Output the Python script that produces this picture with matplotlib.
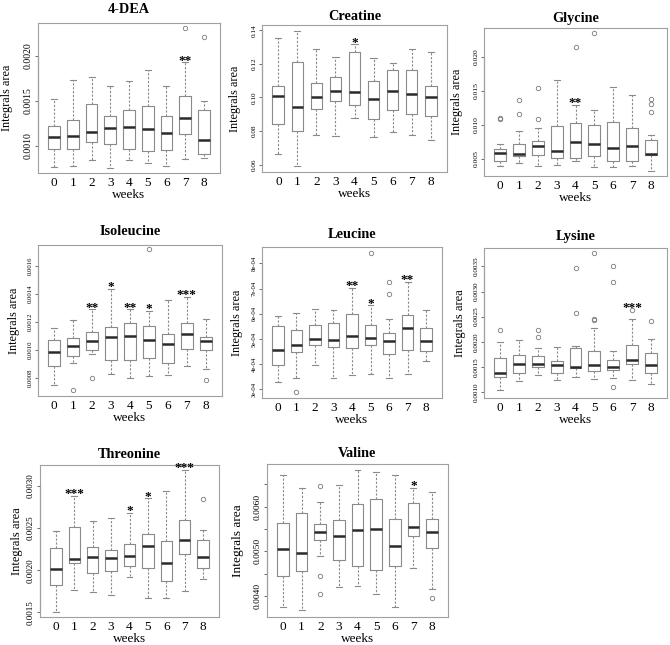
import matplotlib
matplotlib.use("Agg")
import matplotlib.pyplot as plt
import matplotlib.transforms as mtransforms

plt.rcParams['font.family'] = ['Liberation Serif', 'DejaVu Serif']

weeks = list(range(9))

# 4-DEA
dea_lo = [0.000764, 0.000782, 0.000841, 0.000760, 0.000849, 0.000812, 0.000775, 0.000852, 0.000863]
dea_q1 = [0.000967, 0.000967, 0.001048, 0.001026, 0.000970, 0.000948, 0.000956, 0.001129, 0.000915]
dea_med = [0.001100, 0.001114, 0.001159, 0.001200, 0.001214, 0.001188, 0.001144, 0.001314, 0.001063]
dea_q3 = [0.001220, 0.001284, 0.001465, 0.001336, 0.001402, 0.001443, 0.001336, 0.001557, 0.001402]
dea_hi = [0.001520, 0.001727, 0.001760, 0.001660, 0.001716, 0.001838, 0.001668, 0.001926, 0.001500]
dea_out = [[], [], [], [], [], [], [], [0.00231], [0.00220]]
dea_sig = {7: '**'}

# Creatine
cre_lo = [0.0661, 0.0592, 0.0774, 0.0770, 0.0879, 0.0766, 0.0792, 0.0776, 0.0745]
cre_q1 = [0.0842, 0.0798, 0.0931, 0.0980, 0.0956, 0.0871, 0.0925, 0.0901, 0.0891]
cre_med = [0.1006, 0.0945, 0.1002, 0.1040, 0.1032, 0.0992, 0.1040, 0.1020, 0.1002]
cre_q3 = [0.1071, 0.1210, 0.1089, 0.1121, 0.1269, 0.1099, 0.1162, 0.1164, 0.1071]
cre_hi = [0.1356, 0.1396, 0.1289, 0.1244, 0.1317, 0.1234, 0.1204, 0.1289, 0.1269]
cre_out = [[], [], [], [], [], [], [], [], []]
cre_sig = {4: '*'}

# Glycine
gly_lo = [0.00397, 0.00441, 0.00402, 0.00417, 0.00466, 0.00382, 0.00387, 0.00402, 0.00324]
gly_q1 = [0.00475, 0.00539, 0.00564, 0.00515, 0.00520, 0.00539, 0.00470, 0.00470, 0.00564]
gly_med = [0.00593, 0.00578, 0.00696, 0.00618, 0.00745, 0.00716, 0.00662, 0.00691, 0.00578]
gly_q3 = [0.00652, 0.00725, 0.00770, 0.00990, 0.01025, 0.00995, 0.01044, 0.00956, 0.00775]
gly_hi = [0.00725, 0.00917, 0.00951, 0.01657, 0.01294, 0.01225, 0.01554, 0.01446, 0.00848]
gly_out = [[0.01108, 0.01090], [0.01368, 0.01162], [0.01544, 0.01093], [], [0.02142],
           [0.02348], [], [], [0.01382, 0.01309, 0.01191]]
gly_sig = {4: '**'}

# Isoleucine
ile_lo = [0.000744, 0.000902, 0.000971, 0.000826, 0.000799, 0.000811, 0.000821, 0.000885, 0.000861]
ile_q1 = [0.000881, 0.000955, 0.000998, 0.000926, 0.000926, 0.000936, 0.000904, 0.001002, 0.000998]
ile_med = [0.000983, 0.001024, 0.001064, 0.001091, 0.001098, 0.001067, 0.001038, 0.001110, 0.001062]
ile_q3 = [0.001069, 0.001086, 0.001124, 0.001158, 0.001191, 0.001167, 0.001112, 0.001189, 0.001091]
ile_hi = [0.001155, 0.001208, 0.001287, 0.001435, 0.001287, 0.001275, 0.001351, 0.001375, 0.001217]
ile_out = [[], [0.000713], [0.000799], [], [], [0.001716], [], [], [0.000785]]
ile_sig = {2: '**', 3: '*', 4: '**', 5: '*', 7: '***'}

# Leucine
leu_lo = [3.29e-4, 3.47e-4, 3.96e-4, 3.47e-4, 3.58e-4, 3.62e-4, 3.47e-4, 3.61e-4, 4.13e-4]
leu_q1 = [3.97e-4, 4.47e-4, 4.78e-4, 4.68e-4, 4.63e-4, 4.76e-4, 4.42e-4, 4.56e-4, 4.54e-4]
leu_med = [4.58e-4, 4.78e-4, 5.01e-4, 4.97e-4, 5.12e-4, 5.03e-4, 4.92e-4, 5.45e-4, 4.91e-4]
leu_q3 = [5.50e-4, 5.37e-4, 5.54e-4, 5.65e-4, 5.99e-4, 5.57e-4, 5.22e-4, 5.97e-4, 5.44e-4]
leu_hi = [5.90e-4, 6.04e-4, 6.19e-4, 6.14e-4, 7.04e-4, 6.34e-4, 5.81e-4, 7.28e-4, 6.14e-4]
leu_out = [[], [2.88e-4], [], [], [], [8.43e-4], [7.26e-4, 6.77e-4], [], []]
leu_sig = {4: '**', 5: '*', 7: '**'}

# Lysine
lys_lo = [0.001033, 0.001220, 0.001347, 0.001233, 0.001300, 0.001260, 0.001280, 0.001247, 0.001153]
lys_q1 = [0.001300, 0.001387, 0.001507, 0.001380, 0.001473, 0.001413, 0.001433, 0.001553, 0.001373]
lys_med = [0.001387, 0.001560, 0.001560, 0.001540, 0.001507, 0.001547, 0.001507, 0.001627, 0.001547]
lys_q3 = [0.001667, 0.001727, 0.001707, 0.001620, 0.001873, 0.001813, 0.001640, 0.001933, 0.001780]
lys_hi = [0.002000, 0.002033, 0.001867, 0.001887, 0.001920, 0.002267, 0.001813, 0.002447, 0.002053]
lys_out = [[0.002233], [], [0.00224, 0.00210], [], [0.003467, 0.002573],
           [0.003767, 0.002447, 0.002433], [0.003513, 0.003187, 0.001107], [0.002633], [0.002413]]
lys_sig = {7: '***'}

# Threonine
thr_lo = [0.001504, 0.001770, 0.001742, 0.001710, 0.001921, 0.001675, 0.001671, 0.001758, 0.001901]
thr_q1 = [0.001825, 0.002083, 0.001972, 0.001996, 0.002048, 0.002032, 0.001869, 0.002198, 0.002032]
thr_med = [0.002016, 0.002139, 0.002159, 0.002143, 0.002163, 0.002286, 0.002087, 0.002357, 0.002155]
thr_q3 = [0.002262, 0.002512, 0.002270, 0.002246, 0.002317, 0.002433, 0.002349, 0.002591, 0.002353]
thr_hi = [0.002468, 0.002881, 0.002587, 0.002615, 0.002683, 0.002853, 0.002944, 0.003190, 0.002476]
thr_out = [[], [], [], [], [], [], [], [], [0.002841]]
thr_sig = {1: '***', 4: '*', 5: '*', 7: '***'}

# Valine
val_lo = [0.003742, 0.003674, 0.004888, 0.004199, 0.004221, 0.004034, 0.003742, 0.004618, 0.004154]
val_q1 = [0.004453, 0.004551, 0.005262, 0.004798, 0.004678, 0.004588, 0.004663, 0.005352, 0.005075]
val_med = [0.005060, 0.004970, 0.005434, 0.005337, 0.005472, 0.005509, 0.005127, 0.005547, 0.005434]
val_q3 = [0.005637, 0.005861, 0.005614, 0.005704, 0.006071, 0.006184, 0.005719, 0.006086, 0.005727]
val_hi = [0.006708, 0.006423, 0.006109, 0.006498, 0.006835, 0.006783, 0.006723, 0.006423, 0.006333]
val_out = [[], [], [0.006476, 0.004453, 0.004049], [], [], [], [], [], [0.003951]]
val_sig = {7: '*'}

panels = [
    # title, stats, yticks, ytick labels, ylim, box px (l, r, t, b), ytick size, ylabel offset, title gap, ylabel size
    ('4-DEA', (dea_lo, dea_q1, dea_med, dea_q3, dea_hi, dea_out, dea_sig),
     [0.0010, 0.0015, 0.0020], ['0.0010', '0.0015', '0.0020'], (0.00070, 0.00236),
     (38, 220, 23, 173), 7.0, 31, 15, 8.8),
    ('Creatine', (cre_lo, cre_q1, cre_med, cre_q3, cre_hi, cre_out, cre_sig),
     [0.06, 0.08, 0.10, 0.12, 0.14], ['0.06', '0.08', '0.10', '0.12', '0.14'], (0.0556, 0.1432),
     (262, 447, 25, 172), 5.2, 27, 10, 8.8),
    ('Glycine', (gly_lo, gly_q1, gly_med, gly_q3, gly_hi, gly_out, gly_sig),
     [0.005, 0.010, 0.015, 0.020], ['0.005', '0.010', '0.015', '0.020'], (0.0025, 0.02426),
     (484, 667, 28, 176), 5.4, 27, 11, 8.8),
    ('Isoleucine', (ile_lo, ile_q1, ile_med, ile_q3, ile_hi, ile_out, ile_sig),
     [0.0008, 0.0010, 0.0012, 0.0014, 0.0016], ['0.0008', '0.0010', '0.0012', '0.0014', '0.0016'],
     (0.000668, 0.001747), (38, 222, 245, 396), 4.8, 24, 15, 8.8),
    ('Leucine', (leu_lo, leu_q1, leu_med, leu_q3, leu_hi, leu_out, leu_sig),
     [3e-4, 4e-4, 5e-4, 6e-4, 7e-4, 8e-4], ['3e-04', '4e-04', '5e-04', '6e-04', '7e-04', '8e-04'],
     (2.66e-4, 8.65e-4), (262, 442, 247, 398), 4.8, 25, 14, 8.8),
    ('Lysine', (lys_lo, lys_q1, lys_med, lys_q3, lys_hi, lys_out, lys_sig),
     [0.0010, 0.0015, 0.0020, 0.0025, 0.0030, 0.0035],
     ['0.0010', '0.0015', '0.0020', '0.0025', '0.0030', '0.0035'],
     (0.00088, 0.003867), (484, 667, 248, 398), 5.2, 24, 13, 9.0),
    ('Threonine', (thr_lo, thr_q1, thr_med, thr_q3, thr_hi, thr_out, thr_sig),
     [0.0015, 0.0020, 0.0025, 0.0030], ['0.0015', '0.0020', '0.0025', '0.0030'],
     (0.001444, 0.00325), (40, 219, 465, 617), 6.5, 23, 12, 9.0),
    ('Valine', (val_lo, val_q1, val_med, val_q3, val_hi, val_out, val_sig),
     [0.0040, 0.0045, 0.0050, 0.0055, 0.0060, 0.0065], ['0.0040', '', '0.0050', '', '0.0060', ''],
     (0.003524, 0.00696), (267, 448, 464, 617), 6.8, 29, 12, 9.6),
]

W, H = 670, 645
fig = plt.figure(figsize=(W / 100, H / 100), dpi=100)

gray = '#8a8a8a'
for title, st, yt, ytl, ylim, (l, r, t, b), tsize, yoff, tgap, lsize in panels:
    ax = fig.add_axes([l / W, 1 - b / H, (r - l) / W, (b - t) / H])
    lo, q1, med, q3, hi, out, sig = st
    stats = []
    for i in weeks:
        stats.append(dict(whislo=lo[i], q1=q1[i], med=med[i], q3=q3[i],
                          whishi=hi[i], fliers=out[i]))
    ax.bxp(stats, positions=weeks, widths=0.62, capwidths=0.32,
           boxprops=dict(color=gray, linewidth=0.8),
           whiskerprops=dict(color=gray, linewidth=0.8, linestyle=(0, (2, 1.5))),
           capprops=dict(color=gray, linewidth=0.8),
           medianprops=dict(color='#2a2a2a', linewidth=1.8, solid_capstyle='butt'),
           flierprops=dict(marker='o', markerfacecolor='none', markeredgecolor='#7a7a7a',
                           markersize=3.2, markeredgewidth=0.6))
    span = ylim[1] - ylim[0]
    for wk, s in sig.items():
        anchor = hi[wk]
        near = [v for v in out[wk] if hi[wk] < v < hi[wk] + 0.1 * span]
        if near:
            anchor = max(near)
        ax.annotate(s, (wk, anchor), xytext=(0, -1.0), textcoords='offset points',
                    ha='center', va='baseline', fontsize=9.5, fontweight='bold')
    ax.set_xlim(-0.86, 8.86)
    ax.set_ylim(*ylim)
    ax.set_xticks(weeks)
    ax.set_xticklabels([str(w) for w in weeks], fontsize=9.5)
    ax.set_yticks(yt)
    ax.set_yticklabels(ytl, fontsize=tsize, rotation=90, va='center')
    ax.tick_params(axis='x', length=0, pad=3)
    ax.tick_params(axis='y', length=2.5, width=0.6, color='#555555', pad=1.5)
    for sp in ax.spines.values():
        sp.set_color('#a0a0a0')
        sp.set_linewidth(0.8)
    # R style axis line between the outer ticks
    trans = mtransforms.blended_transform_factory(ax.transAxes, ax.transData)
    ax.plot([0, 0], [yt[0], yt[-1]], color='#555555', lw=0.8, transform=trans, clip_on=False)
    ax.set_title(title, fontsize=10.3, fontweight='bold', pad=(tgap - 5) * 0.72)
    ax.set_xlabel('weeks', fontsize=9.5, labelpad=0)
    ax.set_ylabel('Integrals area', fontsize=lsize)
    ax.yaxis.set_label_coords(-(yoff - 6) / (r - l), 0.5)

fig.savefig('out.png', dpi=100)
